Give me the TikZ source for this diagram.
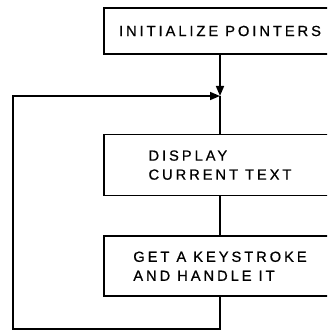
\documentclass[tikz,border=0pt]{standalone}
\usepackage{fontspec}
\usetikzlibrary{arrows.meta,positioning}
\newfontfamily\flowfont[LetterSpace=20,FakeBold=0.8]{Liberation Sans}

\begin{document}
\begin{tikzpicture}[x=1pt,y=1pt,line width=1.6pt, every node/.style={font=\flowfont\fontsize{14.7}{19}\selectfont,align=left}, box/.style={draw,minimum width=232pt,inner sep=0pt}, a/.style={-{Triangle[length=10pt,width=8pt]}}]
\clip (0,0) rectangle (327,-331);
\node[box,minimum height=46pt] (init) at (220,-31) {INITIALIZE POINTERS};
\node[box,minimum height=61pt,below=79pt of init] (disp) {DISPLAY\\CURRENT TEXT};
\node[box,minimum height=60pt,below=39pt of disp] (key) {GET A KEYSTROKE\\AND HANDLE IT};
\coordinate (join) at (220,-96);
\coordinate (back) at (13,-329);
\draw[a] (init.south)--(join);\draw (join)--(disp.north);\draw (disp)--(key);
\draw[a] (key.south) |- (back) |- (join);
\end{tikzpicture}
\end{document}
